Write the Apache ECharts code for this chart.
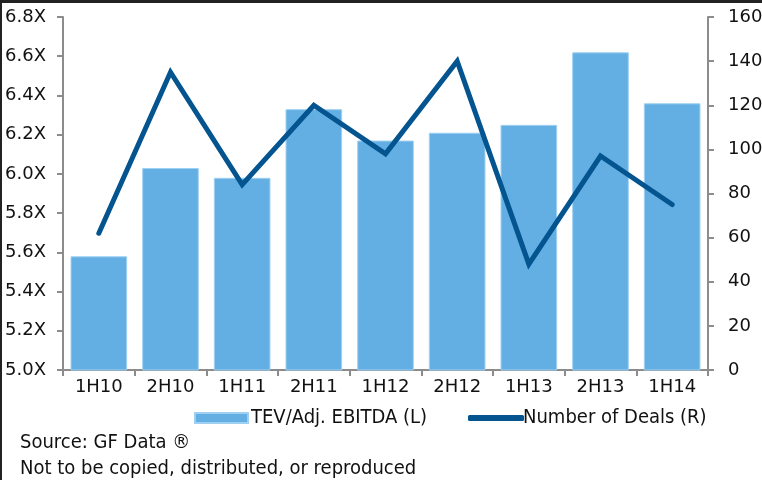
<!DOCTYPE html>
<html>
<head>
<meta charset="utf-8">
<script src="https://cdn.jsdelivr.net/npm/echarts@6/dist/echarts.min.js"></script>
<style>
  html, body { margin: 0; padding: 0; background: #fff; }
  #chart { width: 762px; height: 480px; }
</style>
</head>
<body>
<div id="chart"></div>
<script>
// Half-year periods
const periods = ['1H10', '2H10', '1H11', '2H11', '1H12', '2H12', '1H13', '2H13', '1H14'];
// Median TEV / Adjusted EBITDA multiple (left axis)
const tevMultiple = [5.58, 6.03, 5.98, 6.33, 6.17, 6.21, 6.25, 6.62, 6.36];
// Number of deals closed (right axis)
const dealCount = [62, 135, 84, 120, 98, 140, 48, 97, 75];
// Footnote lines
const footnotes = ['Source: GF Data \u00ae', 'Not to be copied, distributed, or reproduced'];

const axisFont = 'DejaVu Sans';
const textFont = '"DejaVu Sans Condensed", "DejaVu Sans"';
const axisGray = '#8c8c8c';
const barBlue = '#63afe3';
const lineBlue = '#03548f';

const chart = echarts.init(document.getElementById('chart'), null, { renderer: 'canvas' });

chart.setOption({
  animation: false,
  backgroundColor: '#fff',
  grid: { left: 63, right: 54, top: 17, bottom: 110, containLabel: false, outerBoundsMode: 'none' },
  legend: [
    {
      data: [{ name: 'TEV/Adj. EBITDA (L)', icon: 'rect' }],
      left: 189, top: 403,
      itemWidth: 53, itemHeight: 10, itemGap: 0,
      textStyle: { fontFamily: textFont, fontSize: 20, color: '#111', padding: [0, 0, 0, -2] }
    },
    {
      data: [{ name: 'Number of Deals (R)', icon: 'roundRect' }],
      left: 463, top: 403,
      itemWidth: 56, itemHeight: 6,
      textStyle: { fontFamily: textFont, fontSize: 20, color: '#111', padding: [0, 0, 0, -6] }
    }
  ],
  xAxis: {
    type: 'category',
    data: periods,
    axisLine: { lineStyle: { color: axisGray, width: 2 } },
    axisTick: { show: true, length: 6, lineStyle: { color: axisGray, width: 2 } },
    axisLabel: { fontFamily: axisFont, fontSize: 18, color: '#111', margin: 8 }
  },
  yAxis: [
    {
      type: 'value', min: 5.0, max: 6.8, interval: 0.2,
      axisLine: { show: true, lineStyle: { color: axisGray, width: 2 } },
      axisTick: { show: true, length: 6, lineStyle: { color: axisGray, width: 2 } },
      splitLine: { show: false },
      axisLabel: {
        fontFamily: axisFont, fontSize: 18, color: '#111', margin: 17,
        formatter: v => v.toFixed(1) + 'X'
      }
    },
    {
      type: 'value', min: 0, max: 160, interval: 20,
      position: 'right',
      axisLine: { show: true, lineStyle: { color: axisGray, width: 2 } },
      axisTick: { show: true, length: 6, lineStyle: { color: axisGray, width: 2 } },
      splitLine: { show: false },
      axisLabel: { fontFamily: axisFont, fontSize: 18, color: '#111', margin: 20 }
    }
  ],
  series: [
    {
      name: 'TEV/Adj. EBITDA (L)',
      type: 'bar',
      yAxisIndex: 0,
      data: tevMultiple,
      barCategoryGap: '21%',
      itemStyle: { color: barBlue, borderColor: '#9fd0f2', borderWidth: 1 }
    },
    {
      name: 'Number of Deals (R)',
      type: 'line',
      yAxisIndex: 1,
      data: dealCount,
      symbol: 'none',
      lineStyle: { color: lineBlue, width: 5, cap: 'round', join: 'miter' },
      itemStyle: { color: lineBlue }
    }
  ],
  graphic: [
    { type: 'rect', left: 0, top: 0, shape: { width: 762, height: 3 }, style: { fill: '#222' } },
    { type: 'rect', left: 0, top: 0, shape: { width: 2, height: 480 }, style: { fill: '#222' } },
    {
      type: 'text', left: 20, top: 433,
      style: { text: footnotes[0], font: '20px "DejaVu Sans Condensed", "DejaVu Sans"', fill: '#111' }
    },
    {
      type: 'text', left: 20, top: 459,
      style: { text: footnotes[1], font: '20px "DejaVu Sans Condensed", "DejaVu Sans"', fill: '#111' }
    }
  ]
});
</script>
</body>
</html>
